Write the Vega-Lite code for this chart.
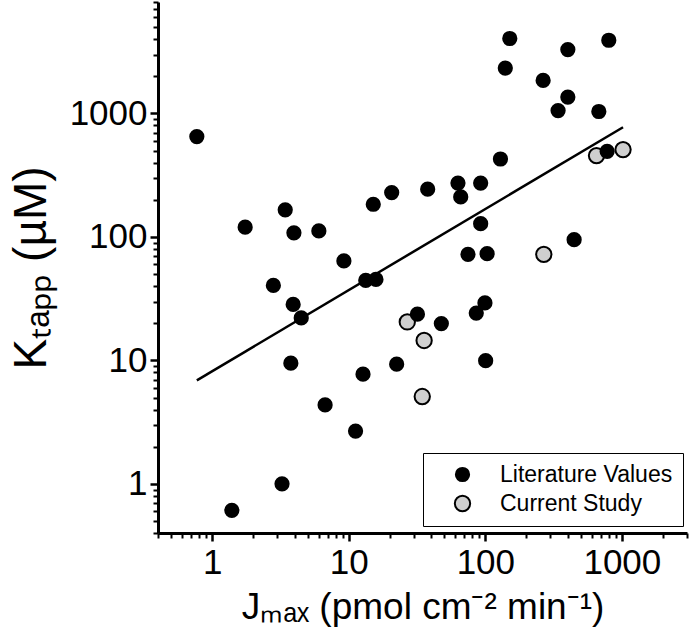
{
  "$schema": "https://vega.github.io/schema/vega-lite/v6.json",
  "width": 529,
  "height": 531,
  "autosize": {"type": "none"},
  "padding": {"left": 158, "top": 2, "right": 3, "bottom": 107},
  "background": "white",
  "config": {
    "view": {"stroke": null},
    "font": "Liberation Sans",
    "axis": {"grid": false, "domainColor": "black", "tickColor": "black", "labelColor": "black", "titleColor": "black", "labelFont": "Liberation Sans", "titleFont": "Liberation Sans"}
  },
  "datasets": {
    "points": [
      {"j": 26.8, "k": 20.5, "series": "Current Study"},
      {"j": 35.6, "k": 14.5, "series": "Current Study"},
      {"j": 34.5, "k": 5.1, "series": "Current Study"},
      {"j": 268, "k": 72.3, "series": "Current Study"},
      {"j": 652, "k": 456, "series": "Current Study"},
      {"j": 0.77, "k": 650, "series": "Literature Values"},
      {"j": 1.39, "k": 0.61, "series": "Literature Values"},
      {"j": 3.24, "k": 1.0, "series": "Literature Values"},
      {"j": 6.7, "k": 4.36, "series": "Literature Values"},
      {"j": 11.2, "k": 2.68, "series": "Literature Values"},
      {"j": 1.74, "k": 120, "series": "Literature Values"},
      {"j": 3.42, "k": 166, "series": "Literature Values"},
      {"j": 3.96, "k": 108, "series": "Literature Values"},
      {"j": 6.03, "k": 112, "series": "Literature Values"},
      {"j": 15.1, "k": 184, "series": "Literature Values"},
      {"j": 20.6, "k": 229, "series": "Literature Values"},
      {"j": 37.8, "k": 244, "series": "Literature Values"},
      {"j": 9.2, "k": 64, "series": "Literature Values"},
      {"j": 2.8, "k": 40.5, "series": "Literature Values"},
      {"j": 3.91, "k": 28.4, "series": "Literature Values"},
      {"j": 4.48, "k": 22.1, "series": "Literature Values"},
      {"j": 13.3, "k": 44.5, "series": "Literature Values"},
      {"j": 15.8, "k": 45.3, "series": "Literature Values"},
      {"j": 3.76, "k": 9.5, "series": "Literature Values"},
      {"j": 12.7, "k": 7.74, "series": "Literature Values"},
      {"j": 22.4, "k": 9.33, "series": "Literature Values"},
      {"j": 31.8, "k": 23.7, "series": "Literature Values"},
      {"j": 151, "k": 4050, "series": "Literature Values"},
      {"j": 140, "k": 2335, "series": "Literature Values"},
      {"j": 402, "k": 3296, "series": "Literature Values"},
      {"j": 802, "k": 3920, "series": "Literature Values"},
      {"j": 265, "k": 1854, "series": "Literature Values"},
      {"j": 402, "k": 1358, "series": "Literature Values"},
      {"j": 341, "k": 1057, "series": "Literature Values"},
      {"j": 678, "k": 1038, "series": "Literature Values"},
      {"j": 780, "k": 494, "series": "Literature Values"},
      {"j": 129, "k": 428, "series": "Literature Values"},
      {"j": 63, "k": 273, "series": "Literature Values"},
      {"j": 66, "k": 211, "series": "Literature Values"},
      {"j": 92.4, "k": 273, "series": "Literature Values"},
      {"j": 92.4, "k": 128, "series": "Literature Values"},
      {"j": 74.6, "k": 72.3, "series": "Literature Values"},
      {"j": 103, "k": 73.2, "series": "Literature Values"},
      {"j": 447, "k": 95, "series": "Literature Values"},
      {"j": 47.6, "k": 19.9, "series": "Literature Values"},
      {"j": 85.8, "k": 24.2, "series": "Literature Values"},
      {"j": 99.3, "k": 29.2, "series": "Literature Values"},
      {"j": 100.5, "k": 9.94, "series": "Literature Values"},
      {"j": 1020, "k": 510, "series": "Current Study"}
    ],
    "fit": [
      {"j": 0.77, "k": 6.9},
      {"j": 1020, "k": 774}
    ]
  },
  "layer": [
    {
      "data": {"name": "fit"},
      "mark": {"type": "line", "color": "black", "strokeWidth": 2.5},
      "encoding": {
        "x": {
          "field": "j", "type": "quantitative",
          "scale": {"type": "log", "domain": [0.4, 3000], "nice": false},
          "axis": {"orient": "bottom", "values": [1, 10, 100, 1000], "format": "d", "labelFontSize": 35, "tickSize": 8, "tickWidth": 2.5, "domainWidth": 3, "labelPadding": 4, "title": "Jₘₐₓ (pmol cm⁻² min⁻¹)", "titleFontSize": 37, "titleFontWeight": "normal", "titlePadding": 9}
        },
        "y": {
          "field": "k", "type": "quantitative",
          "scale": {"type": "log", "domain": [0.4, 8000], "nice": false},
          "axis": {"orient": "left", "values": [1, 10, 100, 1000], "format": "d", "labelFontSize": 35, "tickSize": 8, "tickWidth": 2.5, "domainWidth": 3, "labelPadding": 3, "title": "Kₜₐₚₚ (µM)", "titleFontSize": 46, "titleFontWeight": "normal", "titlePadding": 14}
        }
      }
    },
    {
      "data": {"name": "points"},
      "mark": {"type": "circle", "opacity": 1, "stroke": "black", "strokeWidth": 2},
      "encoding": {
        "x": {
          "field": "j", "type": "quantitative",
          "axis": {"orient": "bottom", "values": [0.4, 0.5, 0.6, 0.7, 0.8, 0.9, 2, 3, 4, 5, 6, 7, 8, 9, 20, 30, 40, 50, 60, 70, 80, 90, 200, 300, 400, 500, 600, 700, 800, 900, 2000, 3000], "labels": false, "tickSize": 5, "tickWidth": 2, "domain": false, "title": null}
        },
        "y": {
          "field": "k", "type": "quantitative",
          "axis": {"orient": "left", "values": [0.4, 0.5, 0.6, 0.7, 0.8, 0.9, 2, 3, 4, 5, 6, 7, 8, 9, 20, 30, 40, 50, 60, 70, 80, 90, 200, 300, 400, 500, 600, 700, 800, 900, 2000, 3000, 4000, 5000, 6000, 7000, 8000], "labels": false, "tickSize": 5, "tickWidth": 2, "domain": false, "title": null}
        },
        "color": {
          "field": "series", "type": "nominal",
          "scale": {"domain": ["Literature Values", "Current Study"], "range": ["black", "#cfcfcf"]},
          "legend": {"orient": "none", "legendX": 265, "legendY": 451, "title": null, "labelFontSize": 23, "labelLimit": 400, "labelColor": "black", "labelFont": "Liberation Sans", "symbolSize": 170, "symbolStrokeColor": "black", "symbolStrokeWidth": 2, "symbolOffset": 18, "strokeColor": "black", "fillColor": "white", "padding": 10, "rowPadding": 4, "labelOffset": 26}
        },
        "size": {
          "field": "series", "type": "nominal",
          "scale": {"domain": ["Literature Values", "Current Study"], "range": [175, 235]},
          "legend": null
        }
      }
    }
  ],
  "resolve": {"axis": {"x": "independent", "y": "independent"}}
}
